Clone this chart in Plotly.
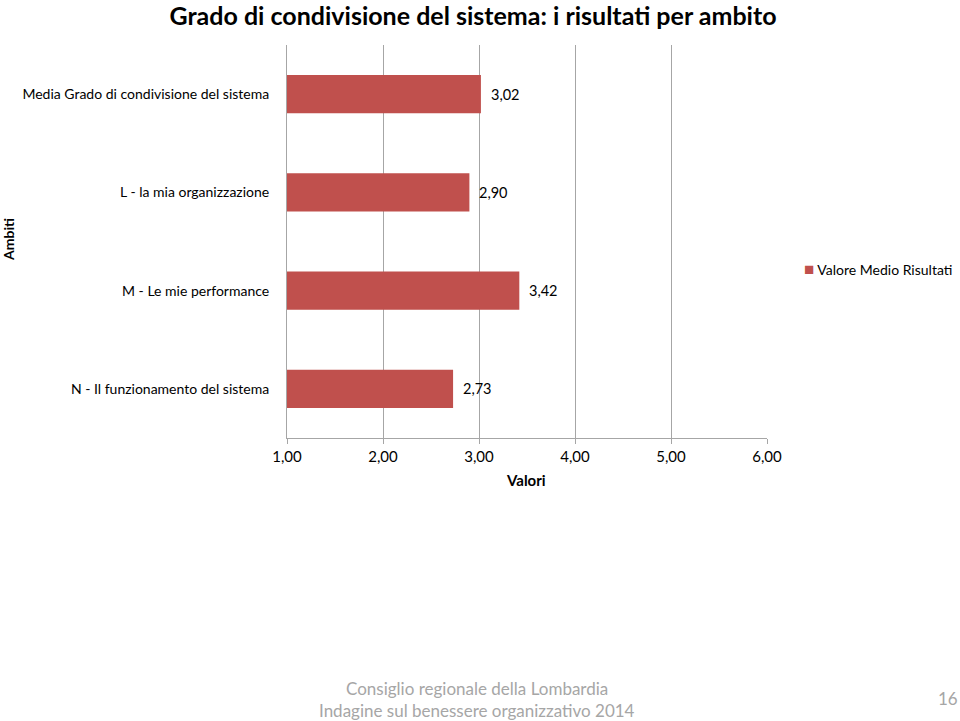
import plotly.graph_objects as go

categories = [
    "Media Grado di condivisione del sistema",
    "L - la mia organizzazione",
    "M - Le mie performance",
    "N - Il funzionamento del sistema",
]
values = [3.02, 2.90, 3.42, 2.73]
series_name = "Valore Medio Risultati"
tick_vals = [1, 2, 3, 4, 5, 6]
tick_text = ["1,00", "2,00", "3,00", "4,00", "5,00", "6,00"]

FONT = "Lato, 'Open Sans', sans-serif"
RED = "#C0504D"
GRID = "#A6A6A6"

fig = go.Figure()
fig.add_trace(go.Bar(
    x=[v - 1 for v in values],
    base=1,
    y=categories,
    orientation="h",
    marker=dict(color=RED, line=dict(width=0)),
    name=series_name,
    showlegend=False,
    hoverinfo="skip",
))

def px_x(px):
    return (px - 287) / 480

def px_y(py):
    return (438 - py) / 393

annotations = []
for c, v in zip(categories, values):
    annotations.append(dict(
        x=v, y=c, xref="x", yref="y", text=f"{v:.2f}".replace(".", ","),
        showarrow=False, xanchor="left", yanchor="middle", xshift=8,
        font=dict(family=FONT, size=14.5, color="#000000"),
    ))

def note(x, y, text, size, color="#000", xanchor="center", angle=0):
    return dict(x=px_x(x), y=px_y(y), xref="paper", yref="paper", text=text,
                showarrow=False, xanchor=xanchor, yanchor="middle", textangle=angle,
                font=dict(family=FONT, size=size, color=color))

annotations += [
    note(802, 268, f"<span style='color:{RED};font-size:17px'>■</span> {series_name}", 14, xanchor="left"),
    note(8, 240, "<b>Ambiti</b>", 14, angle=-90),
    note(526, 480, "<b>Valori</b>", 15),
    note(477, 688, "Consiglio regionale della Lombardia", 17, "#A6A6A6"),
    note(477, 710, "Indagine sul benessere organizzativo 2014", 17, "#A6A6A6"),
    note(948, 698, "16", 17, "#A6A6A6"),
]

fig.update_layout(
    width=960, height=721,
    margin=dict(l=287, r=193, t=45, b=283, autoexpand=False),
    paper_bgcolor="white", plot_bgcolor="white",
    font=dict(family=FONT, size=14, color="#000"),
    title=dict(text="<b>Grado di condivisione del sistema: i risultati per ambito</b>",
               x=473 / 960, xanchor="center", y=1 - 16 / 721, yanchor="middle",
               font=dict(family=FONT, size=25, color="#000")),
    bargap=0.61,
    showlegend=False,
    annotations=annotations,
    xaxis=dict(range=[1, 6], tickvals=tick_vals, ticktext=tick_text,
               showgrid=True, gridcolor=GRID, gridwidth=1,
               showline=True, linecolor=GRID, linewidth=1,
               ticks="outside", ticklen=5, tickcolor=GRID,
               tickfont=dict(family=FONT, size=15, color="#000"),
               zeroline=False, fixedrange=True),
    yaxis=dict(autorange="reversed", showgrid=False,
               showline=True, linecolor=GRID, linewidth=1,
               ticks="", ticklabelstandoff=14,
               tickfont=dict(family=FONT, size=14, color="#000"),
               fixedrange=True),
)

fig.write_html("out.html")
